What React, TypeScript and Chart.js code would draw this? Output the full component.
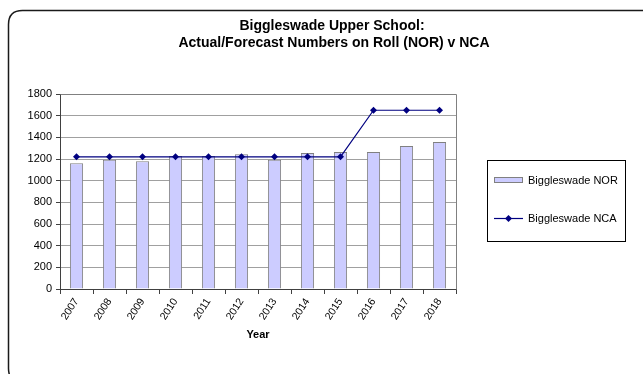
import React, { useEffect, useRef } from "react";
import { Chart, registerables } from "chart.js";

Chart.register(...registerables);

const years = ["2007", "2008", "2009", "2010", "2011", "2012", "2013", "2014", "2015", "2016", "2017", "2018"];
const norValues = [1160, 1192, 1180, 1228, 1228, 1244, 1192, 1256, 1265, 1265, 1321, 1358];
const ncaValues = [1220, 1220, 1220, 1220, 1220, 1220, 1220, 1220, 1220, 1650, 1650, 1650];
const yTicks = [0, 200, 400, 600, 800, 1000, 1200, 1400, 1600, 1800];
const titleLines = ["Biggleswade Upper School:", "Actual/Forecast Numbers on Roll (NOR) v NCA"];

const FONT = '"Liberation Sans", Arial, Helvetica, sans-serif';
const NOR_FILL = "#ccccff";
const NOR_EDGE = "#808080";
const NCA_COLOR = "#000080";

function roundRectPath(ctx: CanvasRenderingContext2D, x: number, y: number, w: number, h: number, r: number) {
  ctx.beginPath();
  ctx.moveTo(x + r, y);
  ctx.lineTo(x + w - r, y);
  ctx.quadraticCurveTo(x + w, y, x + w, y + r);
  ctx.lineTo(x + w, y + h - r);
  ctx.quadraticCurveTo(x + w, y + h, x + w - r, y + h);
  ctx.lineTo(x + r, y + h);
  ctx.quadraticCurveTo(x, y + h, x, y + h - r);
  ctx.lineTo(x, y + r);
  ctx.quadraticCurveTo(x, y, x + r, y);
  ctx.closePath();
}

// Frame, two-line heading, plot-area outline and the boxed legend.
const decorations = {
  id: "decorations",
  beforeDatasetsDraw(chart: any) {
    const { ctx, chartArea } = chart;
    ctx.save();
    ctx.strokeStyle = "#808080";
    ctx.lineWidth = 1;
    ctx.beginPath();
    ctx.moveTo(Math.round(chartArea.left) + 0.5, Math.round(chartArea.top) + 0.5);
    ctx.lineTo(Math.round(chartArea.right) + 0.5, Math.round(chartArea.top) + 0.5);
    ctx.lineTo(Math.round(chartArea.right) + 0.5, Math.round(chartArea.bottom) + 0.5);
    ctx.stroke();
    ctx.restore();
  },
  afterDraw(chart: any) {
    const { ctx } = chart;
    ctx.save();

    // outer frame
    ctx.strokeStyle = "#1a1a1a";
    ctx.lineWidth = 1.5;
    roundRectPath(ctx, 8.5, 10.5, 660, 372, 14);
    ctx.stroke();

    // heading
    ctx.fillStyle = "#000";
    ctx.font = `bold 14px ${FONT}`;
    ctx.textAlign = "center";
    ctx.textBaseline = "middle";
    ctx.fillText(titleLines[0], 332, 26);
    ctx.fillText(titleLines[1], 334, 43);

    // legend
    const ds = chart.data.datasets;
    ctx.strokeStyle = "#000";
    ctx.lineWidth = 1;
    ctx.strokeRect(487.5, 160.5, 138, 81);

    ctx.fillStyle = ds[0].backgroundColor;
    ctx.fillRect(494, 177, 29, 6);
    ctx.strokeStyle = ds[0].borderColor;
    ctx.strokeRect(494.5, 177.5, 28, 5);

    ctx.strokeStyle = ds[1].borderColor;
    ctx.lineWidth = 1.2;
    ctx.beginPath();
    ctx.moveTo(494, 218.5);
    ctx.lineTo(523, 218.5);
    ctx.stroke();
    ctx.fillStyle = ds[1].pointBackgroundColor;
    ctx.beginPath();
    ctx.moveTo(508.5, 215);
    ctx.lineTo(512, 218.5);
    ctx.lineTo(508.5, 222);
    ctx.lineTo(505, 218.5);
    ctx.closePath();
    ctx.fill();

    ctx.fillStyle = "#000";
    ctx.font = `11px ${FONT}`;
    ctx.textAlign = "left";
    ctx.textBaseline = "middle";
    ctx.fillText(ds[0].label, 528, 180.5);
    ctx.fillText(ds[1].label, 528, 218.5);

    ctx.restore();
  },
};

export default function App() {
  const canvasRef = useRef<HTMLCanvasElement | null>(null);

  useEffect(() => {
    const canvas = canvasRef.current;
    if (!canvas) return;
    Chart.defaults.font.family = FONT;
    Chart.defaults.color = "#000";

    const chart = new Chart(canvas, {
      type: "bar",
      data: {
        labels: years,
        datasets: [
          {
            type: "bar",
            label: "Biggleswade NOR",
            data: norValues,
            backgroundColor: NOR_FILL,
            borderColor: NOR_EDGE,
            borderWidth: 1,
            categoryPercentage: 1,
            barPercentage: 0.4,
            order: 2,
          },
          {
            type: "line",
            label: "Biggleswade NCA",
            data: ncaValues,
            borderColor: NCA_COLOR,
            backgroundColor: NCA_COLOR,
            pointBackgroundColor: NCA_COLOR,
            pointBorderColor: NCA_COLOR,
            borderWidth: 1.2,
            pointStyle: "rectRot",
            pointRadius: 3.5,
            pointBorderWidth: 0,
            tension: 0,
            fill: false,
            order: 1,
          },
        ] as any,
      },
      options: {
        responsive: false,
        animation: false,
        devicePixelRatio: 1,
        layout: { padding: { left: 0, top: 94, right: 187, bottom: 28 } },
        plugins: {
          legend: { display: false },
          title: { display: false },
          tooltip: { enabled: false },
        },
        scales: {
          x: {
            offset: true,
            grid: {
              offset: true,
              drawOnChartArea: false,
              drawTicks: true,
              tickLength: 5,
              tickColor: "#404040",
            },
            border: { color: "#404040", width: 1 },
            ticks: {
              minRotation: 57,
              maxRotation: 57,
              autoSkip: false,
              padding: 2,
              font: { size: 10.5 },
              color: "#000",
            },
            title: {
              display: true,
              text: "Year",
              font: { size: 11, weight: "bold" },
              padding: { top: 4, bottom: 4 },
              color: "#000",
            },
            afterFit(scale: any) {
              scale.height = 57;
            },
          },
          y: {
            min: 0,
            max: 1800,
            afterBuildTicks(scale: any) {
              scale.ticks = yTicks.map((v) => ({ value: v }));
            },
            grid: {
              color: "#a0a0a0",
              lineWidth: 1,
              drawTicks: true,
              tickLength: 4,
              tickColor: "#404040",
            },
            border: { color: "#404040", width: 1 },
            ticks: {
              padding: 4,
              font: { size: 11 },
              color: "#000",
              callback: (value: any) => String(value),
            },
            afterFit(scale: any) {
              scale.width = 60;
            },
          },
        },
      },
      plugins: [decorations],
    });

    return () => chart.destroy();
  }, []);

  return (
    <div style={{ position: "fixed", left: 0, top: 0, width: 643, height: 374, background: "#fff" }}>
      <canvas ref={canvasRef} width={643} height={374} style={{ display: "block" }} />
    </div>
  );
}
